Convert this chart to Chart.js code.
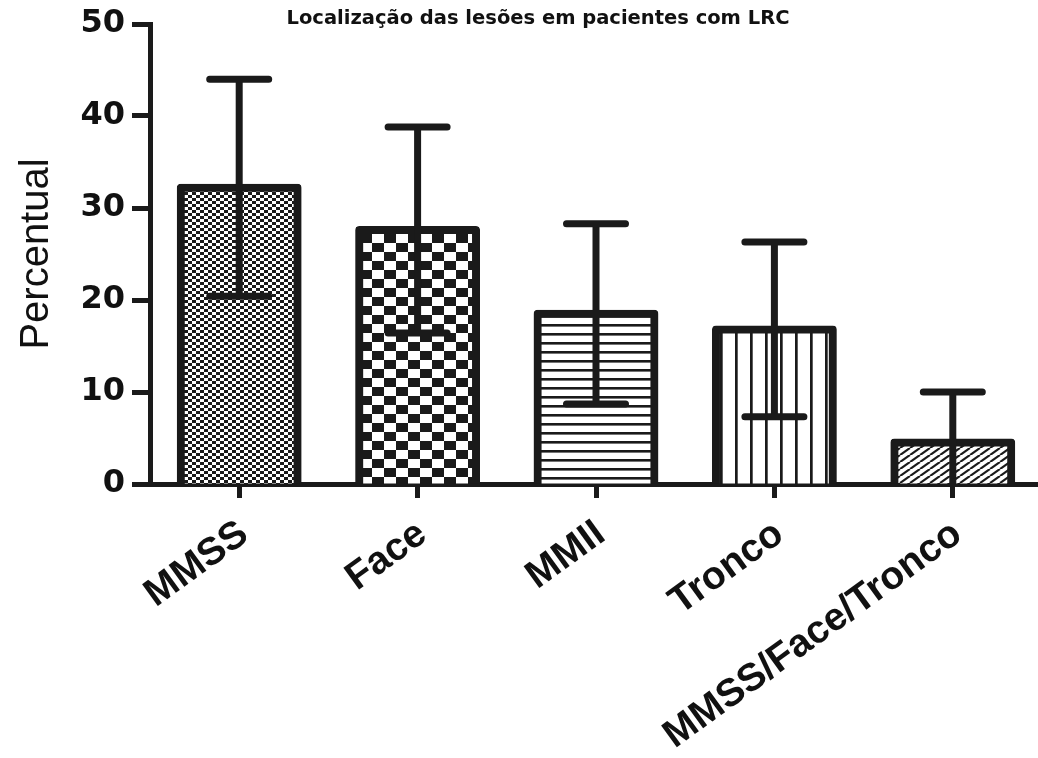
<!DOCTYPE html>
<html>
<head>
<meta charset="utf-8">
<title>Localização das lesões em pacientes com LRC</title>
<script src="https://cdn.jsdelivr.net/npm/chart.js@4/dist/chart.umd.min.js"></script>
<style>
  html, body { margin: 0; padding: 0; background: #ffffff; overflow: hidden; }
  #wrap { width: 1050px; height: 758px; }
</style>
</head>
<body>
<div id="wrap"><canvas id="chart" width="1050" height="758"></canvas></div>
<script>
// Percentage of patients by lesion site (mean and standard deviation)
const categories = ['MMSS', 'Face', 'MMII', 'Tronco', 'MMSS/Face/Tronco'];
const means = [32.2, 27.6, 18.5, 16.8, 4.5];
const sd = [11.8, 11.2, 9.8, 9.5, 5.5];
const yTicks = [0, 10, 20, 30, 40, 50];

const INK = '#1a1a1a';

// Small repeating tiles used as bar fills
function tile(w, h, paint) {
  const c = document.createElement('canvas');
  c.width = w; c.height = h;
  const g = c.getContext('2d');
  g.fillStyle = '#ffffff';
  g.fillRect(0, 0, w, h);
  g.fillStyle = INK;
  g.strokeStyle = INK;
  paint(g, w, h);
  return document.getElementById('chart').getContext('2d').createPattern(c, 'repeat');
}

const fineCheck = tile(8, 6, (g) => {
  g.fillRect(0, 0, 4, 3);
  g.fillRect(4, 3, 4, 3);
});
const coarseCheck = tile(24, 18, (g) => {
  g.fillRect(0, 0, 12, 9);
  g.fillRect(12, 9, 12, 9);
});
const horizLines = tile(8, 9, (g) => {
  g.fillRect(0, 0, 8, 2.6);
});
const vertLines = tile(15, 8, (g) => {
  g.fillRect(0, 0, 2.7, 8);
});
const diagLines = tile(10, 7, (g, w, h) => {
  g.lineWidth = 2.2;
  for (let k = -1; k <= 1; k++) {
    g.beginPath();
    g.moveTo(k * w, h);
    g.lineTo(k * w + w, 0);
    g.stroke();
  }
});
const fills = [fineCheck, coarseCheck, horizLines, vertLines, diagLines];

// Mean ± SD whiskers drawn on top of each bar
const errorBars = {
  id: 'errorBars',
  afterDatasetsDraw(chart) {
    const { ctx, chartArea, scales } = chart;
    const y = scales.y;
    const meta = chart.getDatasetMeta(0);
    const half = 29.5;
    ctx.save();
    ctx.beginPath();
    ctx.rect(chartArea.left, chartArea.top - 20, chartArea.right - chartArea.left, chartArea.bottom - chartArea.top + 20);
    ctx.clip();
    ctx.strokeStyle = INK;
    ctx.lineWidth = 7;
    meta.data.forEach((bar, i) => {
      const hi = y.getPixelForValue(means[i] + sd[i]);
      const lo = y.getPixelForValue(means[i] - sd[i]);
      ctx.lineCap = 'butt';
      ctx.beginPath();
      ctx.moveTo(bar.x, hi);
      ctx.lineTo(bar.x, lo);
      ctx.stroke();
      ctx.lineCap = 'round';
      ctx.beginPath();
      ctx.moveTo(bar.x - half, hi);
      ctx.lineTo(bar.x + half, hi);
      ctx.moveTo(bar.x - half, lo);
      ctx.lineTo(bar.x + half, lo);
      ctx.stroke();
    });
    ctx.restore();
  }
};

new Chart(document.getElementById('chart'), {
  type: 'bar',
  data: {
    labels: categories,
    datasets: [{
      data: means,
      backgroundColor: fills,
      borderColor: INK,
      borderWidth: 8,
      borderRadius: 4,
      inflateAmount: 4,
      barPercentage: 0.655,
      categoryPercentage: 1,
      clip: { left: 20, right: 20, top: 20, bottom: 0 }
    }]
  },
  options: {
    responsive: false,
    devicePixelRatio: 1,
    animation: false,
    events: [],
    layout: { padding: { left: 34, right: 8, top: 0, bottom: 0 } },
    plugins: {
      legend: { display: false },
      tooltip: { enabled: false },
      title: {
        display: true,
        text: 'Localização das lesões em pacientes com LRC',
        color: '#111111',
        font: { family: 'DejaVu Sans', weight: 'bold', size: 19.5, lineHeight: '11px' },
        padding: { top: 13, bottom: 0 }
      }
    },
    scales: {
      x: {
        z: 1,
        offset: true,
        afterFit: (s) => { s.height = 274; },
        border: { display: true, color: INK, width: 5 },
        grid: {
          offset: false,
          drawOnChartArea: false,
          drawTicks: true,
          tickLength: 14,
          tickWidth: 5,
          tickColor: INK
        },
        ticks: {
          autoSkip: false,
          minRotation: 36,
          maxRotation: 36,
          padding: 13,
          labelOffset: 5,
          color: '#111111',
          font: { family: 'Liberation Sans', weight: 'bold', size: 39 }
        }
      },
      y: {
        z: 1,
        min: 0,
        max: 50,
        afterFit: (s) => { s.width = 116; },
        afterBuildTicks: (s) => { s.ticks = yTicks.map(v => ({ value: v })); },
        border: { display: true, color: INK, width: 5 },
        grid: {
          drawOnChartArea: false,
          drawTicks: true,
          tickLength: 18,
          tickWidth: 5,
          tickColor: INK
        },
        ticks: {
          padding: 7,
          color: '#111111',
          font: { family: 'DejaVu Sans', weight: 'bold', size: 32, lineHeight: 1 }
        },
        title: {
          display: true,
          text: 'Percentual',
          color: '#111111',
          font: { family: 'Liberation Sans', weight: 'normal', size: 40, lineHeight: '2px' },
          padding: { top: 1.6, bottom: 0 }
        }
      }
    }
  },
  plugins: [errorBars]
});
</script>
</body>
</html>
